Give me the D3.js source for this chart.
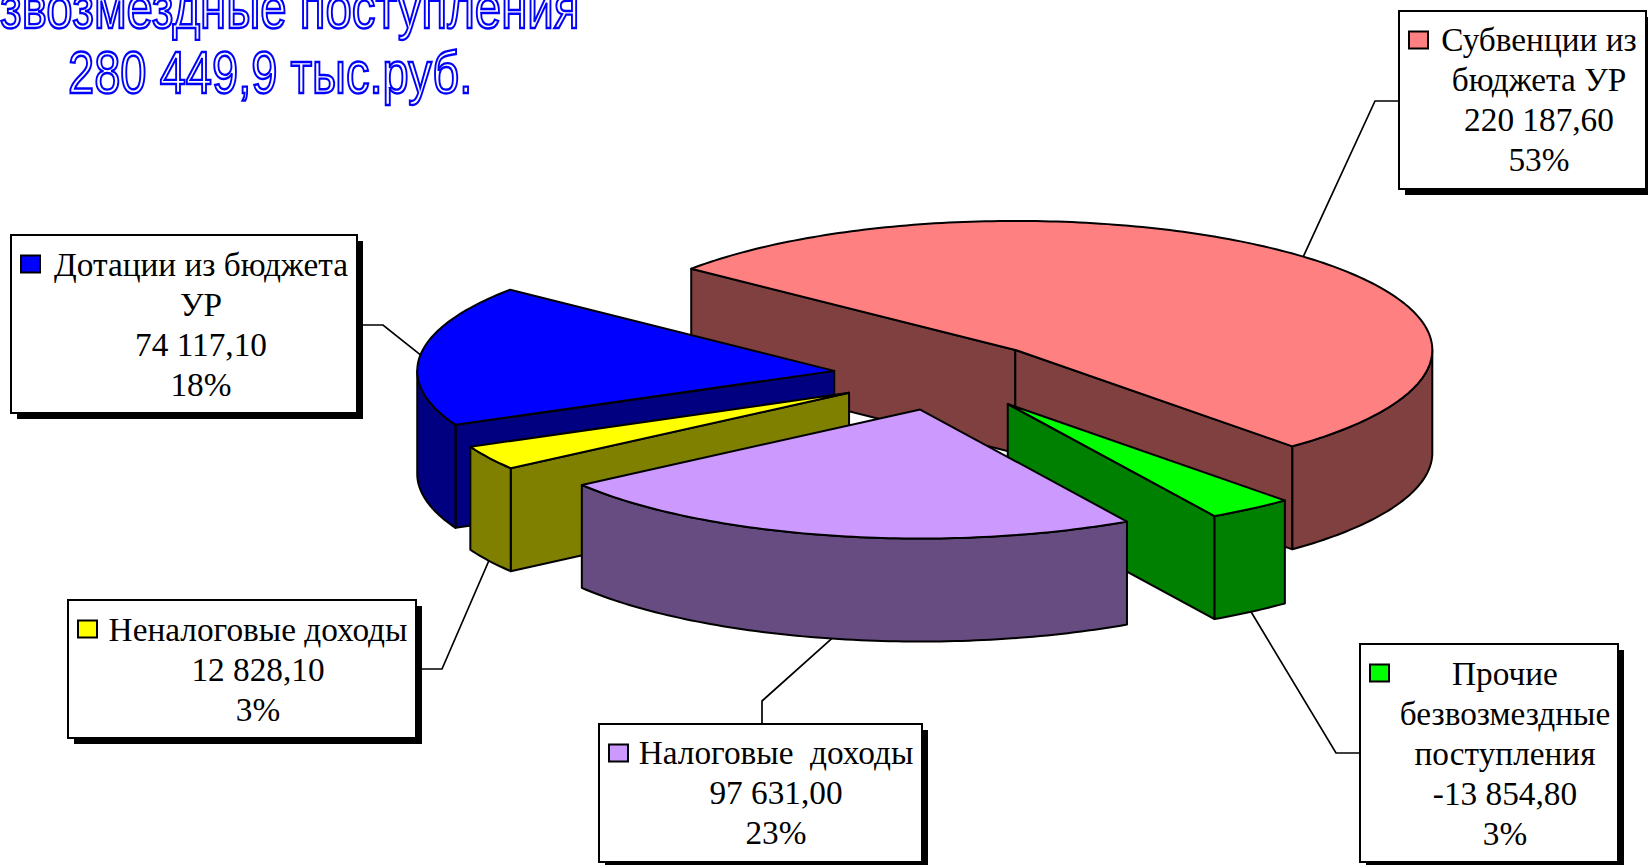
<!DOCTYPE html>
<html>
<head>
<meta charset="utf-8">
<script src="https://cdn.jsdelivr.net/npm/d3@7"></script>
<style>
  body { margin: 0; background: #fff; overflow: hidden; }
  text { font-family: "Liberation Serif", serif; fill: #000; }
</style>
</head>
<body>
<div id="chart-container"></div>
<script>
// data, clockwise starting with the big slice
const categories = [
    ["Субвенции из", "бюджета УР"],
    ["Прочие", "безвозмездные", "поступления"],
    ["Налоговые  доходы"],
    ["Неналоговые доходы"],
    ["Дотации из бюджета", "УР"]
];
const values = [220187.6, -13854.8, 97631.0, 12828.1, 74117.1];
const titleLines = ["звозмездные поступления", "280 449,9 тыс.руб."];

// styles and layout
const topColors = ["#ff8080", "#00ff00", "#cc99ff", "#ffff00", "#0000ff"];
const sideColors = ["#804040", "#008000", "#664c80", "#808000", "#000080"];
const drawOrder = [0, 4, 3, 1, 2]; // back to front
const nudges = [[0, -1], [4, 2], [2, 2], [1, 1], [0, 0]]; // small corrections to the explode offset
const boxes = [
    { x: 1399, y: 11, w: 247, h: 178, textX: 1539, base: 51, elbow: [1375, 101], end: [1399, 101] },
    { x: 1360, y: 644, w: 258, h: 218, textX: 1505, base: 685, elbow: [1336, 753], end: [1360, 753] },
    { x: 599, y: 724, w: 323, h: 138, textX: 776, base: 764, elbow: [762, 701], end: [762, 724] },
    { x: 68, y: 600, w: 348, h: 138, textX: 258, base: 641, elbow: [442, 669], end: [416, 669] },
    { x: 11, y: 235, w: 346, h: 178, textX: 201, base: 276, elbow: [383, 325], end: [357, 325] }
];

const svgWidth = 1648;
const svgHeight = 865;
const cx = 941, cy = 375;   // center of the unexploded pie
const rx = 417, ry = 129;   // ellipse of the tilted pie
const depth = 103;
const explode = 0.258;
const startDeg = -51;

const svg = d3.select("#chart-container")
    .append("svg")
    .attr("width", svgWidth)
    .attr("height", svgHeight)
    .style("display", "block");

const pie = d3.pie()
    .sort(null)
    .value(d => Math.abs(d))
    .startAngle(startDeg * Math.PI / 180)
    .endAngle((startDeg + 360) * Math.PI / 180);

const total = d3.sum(values, d => Math.abs(d));
const locale = d3.formatLocale({ decimal: ",", thousands: " ", grouping: [3], currency: ["", ""], minus: "-" });
const fmtValue = locale.format(",.2f");
const fmtPct = d3.format(".0%");

// point on the ellipse, angle clockwise from the top like d3.pie
const rim = (c, a, dy = 0) => [c[0] + rx * Math.sin(a), c[1] - ry * Math.cos(a) + dy];
const line = d3.line();

// angles along an arc, one step per degree or so
function arcAngles(a0, a1) {
    const n = Math.max(2, Math.ceil((a1 - a0) * 180 / Math.PI));
    return d3.range(n + 1).map(i => a0 + (a1 - a0) * i / n);
}

const slices = pie(values).map((d, i) => {
    const mid = (d.startAngle + d.endAngle) / 2;
    const apex = [
        cx + explode * rx * Math.sin(mid) + nudges[i][0],
        cy - explode * ry * Math.cos(mid) + nudges[i][1]
    ];
    return { ...d, i, mid, apex };
});

// leader lines go under the pie and the boxes
svg.append("g").selectAll("path")
    .data(slices)
    .enter()
    .append("path")
    .attr("d", d => {
        const front = Math.cos(d.mid) < 0;
        return line([rim(d.apex, d.mid, front ? depth : 0), boxes[d.i].elbow, boxes[d.i].end]);
    })
    .attr("fill", "none")
    .attr("stroke", "#000")
    .attr("stroke-width", 1.7);

function drawSlice(g, d) {
    const down = p => [p[0], p[1] + depth];
    const wall = pts => g.append("path")
        .attr("d", line(pts) + "Z")
        .attr("fill", sideColors[d.i])
        .attr("stroke", "#000")
        .attr("stroke-width", 2)
        .attr("stroke-linejoin", "round");

    // flat cut sides, only the ones turned to the viewer
    if (Math.sin(d.startAngle) < 0) {
        const p = rim(d.apex, d.startAngle);
        wall([d.apex, p, down(p), down(d.apex)]);
    }
    if (Math.sin(d.endAngle) > 0) {
        const p = rim(d.apex, d.endAngle);
        wall([d.apex, p, down(p), down(d.apex)]);
    }
    // outer curved side, front half of the ellipse only
    const a0 = Math.max(d.startAngle, Math.PI / 2);
    const a1 = Math.min(d.endAngle, Math.PI * 1.5);
    if (a1 > a0) {
        const edge = arcAngles(a0, a1).map(a => rim(d.apex, a));
        wall(edge.concat(edge.map(down).reverse()));
    }
    // top
    const top = arcAngles(d.startAngle, d.endAngle).map(a => rim(d.apex, a));
    g.append("path")
        .attr("d", line([d.apex].concat(top)) + "Z")
        .attr("fill", topColors[d.i])
        .attr("stroke", "#000")
        .attr("stroke-width", 2)
        .attr("stroke-linejoin", "round");
}

const pieG = svg.append("g");
drawOrder.forEach(i => drawSlice(pieG.append("g"), slices[i]));

// label boxes with the hard drop shadow
const labels = svg.append("g").selectAll("g")
    .data(slices)
    .enter()
    .append("g");

labels.append("rect")
    .attr("x", d => boxes[d.i].x + 6)
    .attr("y", d => boxes[d.i].y + 6)
    .attr("width", d => boxes[d.i].w)
    .attr("height", d => boxes[d.i].h)
    .attr("fill", "#000");

labels.append("rect")
    .attr("x", d => boxes[d.i].x)
    .attr("y", d => boxes[d.i].y)
    .attr("width", d => boxes[d.i].w)
    .attr("height", d => boxes[d.i].h)
    .attr("fill", "#fff")
    .attr("stroke", "#000")
    .attr("stroke-width", 2);

labels.append("rect")
    .attr("x", d => boxes[d.i].x + 10)
    .attr("y", d => boxes[d.i].y + 20.5)
    .attr("width", 19)
    .attr("height", 17)
    .attr("fill", d => topColors[d.i])
    .attr("stroke", "#000")
    .attr("stroke-width", 2);

labels.each(function (d) {
    const rows = categories[d.i].concat([fmtValue(d.data), fmtPct(Math.abs(d.data) / total)]);
    d3.select(this).selectAll("text")
        .data(rows)
        .enter()
        .append("text")
        .text(t => t)
        .attr("x", boxes[d.i].textX)
        .attr("y", (t, j) => boxes[d.i].base + j * 40)
        .attr("text-anchor", "middle")
        .attr("font-size", 33.3)
        .attr("xml:space", "preserve")
        .style("white-space", "pre");
});

// outlined word art title, stretched tall like the original
const titleX = [0, 68];
const titleY = [28, 93];
const titleScale = [0.79, 0.785];
svg.append("g").selectAll("text")
    .data(titleLines)
    .enter()
    .append("text")
    .text(t => t)
    .attr("transform", (t, i) => `translate(${titleX[i]},${titleY[i]}) scale(${titleScale[i]},1)`)
    .attr("font-size", 60)
    .style("font-family", '"Liberation Sans", sans-serif')
    .style("fill", "#fff")
    .attr("stroke", "#0000ff")
    .attr("stroke-width", 2.4);
</script>
</body>
</html>
